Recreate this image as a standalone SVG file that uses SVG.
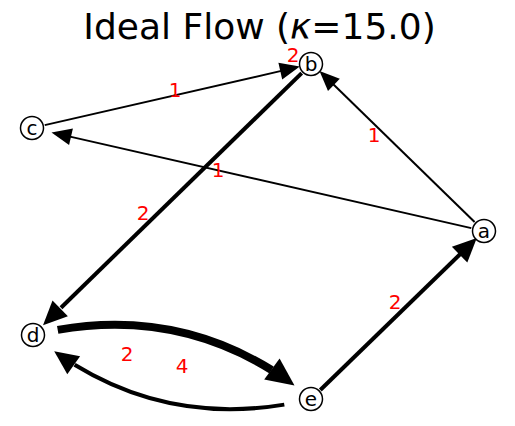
<svg xmlns="http://www.w3.org/2000/svg" width="515" height="426" viewBox="0 0 515 426">
<style>
.e{fill:none;stroke:#000;stroke-linecap:butt}
.h{fill:#000;stroke:none}
.n circle{fill:#fff;stroke:#000;stroke-width:1.5}
.n text{font-family:"DejaVu Sans",sans-serif;font-size:20px;text-anchor:middle;fill:#000}
.l{font-family:"DejaVu Sans",sans-serif;font-size:20px;text-anchor:middle;fill:#ff0000}
.t{font-family:"DejaVu Sans",sans-serif;font-size:36px;text-anchor:middle;fill:#000}
</style>
<rect width="515" height="426" fill="#fff"/>
<text class="t" x="259.5" y="39">Ideal Flow (<tspan font-style="italic">κ</tspan>=15.0)</text>
<g id="edges">
<!-- c -> b -->
<path class="e" stroke-width="2" d="M44.7,125.1 L281.3,70.9"/>
<polygon class="h" points="299.8,66.6 282.2,79.4 278.4,62.8"/>
<!-- a -> c -->
<path class="e" stroke-width="2" d="M471.3,228.1 L70,136.6"/>
<polygon class="h" points="51.5,132.4 72.9,128.5 69.1,145.1"/>
<!-- a -> b -->
<path class="e" stroke-width="2" d="M474.6,222 L333,84"/>
<polygon class="h" points="319.5,71 339.8,78.8 328.0,91.0"/>
<!-- b -> d -->
<path class="e" stroke-width="4" d="M301.7,73.1 L61,307.7"/>
<polygon class="h" points="43,325.2 67.9,316.3 52.5,300.6"/>
<!-- e -> a -->
<path class="e" stroke-width="4" d="M320.3,390 L460.3,254"/>
<polygon class="h" points="476.8,238 467.3,262.6 451.9,246.8"/>
<!-- d -> e -->
<path class="e" stroke-width="8" d="M57.7,329.9 Q173.9,309.6 271.6,370.0"/>
<polygon class="h" points="294.5,385.4 264.2,379.4 279.6,358.4"/>
<!-- e -> d -->
<path class="e" stroke-width="4" d="M284.3,404.6 Q170.5,423.5 74.6,364.8"/>
<polygon class="h" points="54.2,351.3 80.1,356.2 67.3,374.2"/>
</g>
<g id="edge-labels">
<text class="l" x="293" y="62">2</text>
<text class="l" x="175" y="97">1</text>
<text class="l" x="218" y="177">1</text>
<text class="l" x="143" y="220">2</text>
<text class="l" x="374" y="142">1</text>
<text class="l" x="395" y="309">2</text>
<text class="l" x="127" y="361">2</text>
<text class="l" x="182" y="373">4</text>
</g>
<g id="node-a" class="n"><circle cx="484" cy="231" r="11.5"/><text x="484" y="238">a</text></g>
<g id="node-b" class="n"><circle cx="311" cy="64" r="11.5"/><text x="311" y="71">b</text></g>
<g id="node-c" class="n"><circle cx="32" cy="128" r="11.5"/><text x="32" y="135">c</text></g>
<g id="node-d" class="n"><circle cx="33" cy="335" r="11.5"/><text x="33" y="342">d</text></g>
<g id="node-e" class="n"><circle cx="311" cy="399" r="11.5"/><text x="311" y="406">e</text></g>
</svg>
